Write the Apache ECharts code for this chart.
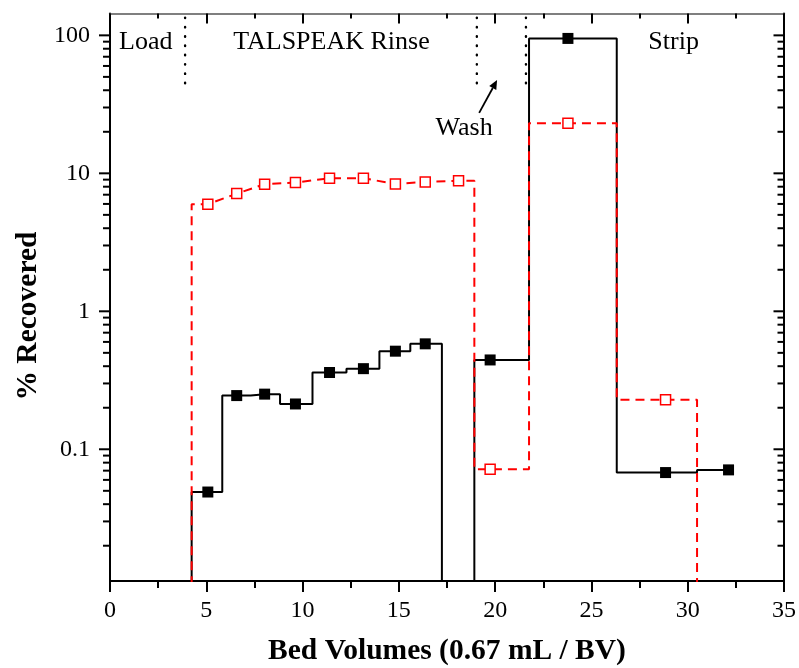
<!DOCTYPE html>
<html>
<head>
<meta charset="utf-8">
<script src="https://cdn.jsdelivr.net/npm/echarts@6.0.0/dist/echarts.min.js"></script>
<style>
  html, body { margin: 0; padding: 0; background: #ffffff; }
  #chart { width: 799px; height: 668px; }
</style>
</head>
<body>
<div id="chart"></div>
<script>
// Fraction mid-points in bed volumes; a recovery of 0 means nothing detected
const bedVolumes     = [3.4, 5.08, 6.58, 8.03, 9.63, 11.4, 13.16, 14.82, 16.37, 18.1, 19.74, 23.78, 28.85, 32.12];
const solidRecovery  = [0, 0.049, 0.245, 0.251, 0.213, 0.36, 0.384, 0.514, 0.581, 0, 0.444, 95, 0.0678, 0.0709];
const dashedRecovery = [0, 5.97, 7.13, 8.34, 8.57, 9.21, 9.21, 8.38, 8.66, 8.85, 0.0718, 23.1, 0.229, 0];

const xTickLabels = ['0', '5', '10', '15', '20', '25', '30', '35'];
const yTickLabels = ['0.1', '1', '10', '100'];

// Process step annotations (data coordinates)
const phaseNames = ['Load', 'TALSPEAK Rinse', 'Strip', 'Wash'];
const phaseNameX = [1.86, 11.5, 29.27, 18.39];
const phaseNameY = [89, 89, 89, 21.3];
const phaseBoundaries = [3.9, 19.05, 21.6];
const boundaryLow = 45;
const washArrowFrom = [19.17, 27.4];
const washArrowTo = [20.1, 47.4];

const Y_MIN = 0.0111, Y_MAX = 144;
const X_MIN = 0, X_MAX = 35;
const NOT_DETECTED = Y_MIN / 10;   // drawn below the axis floor, clipped away

const FONT = '"Liberation Serif", "Times New Roman", serif';
const RED = '#ff0000';

// Log-axis tick positions: decades plus 2..9 minors
const yTicks = [];
for (let k = -2; k <= 2; k++) {
  const d = Math.pow(10, k);
  if (d >= Y_MIN && d <= Y_MAX) yTicks.push([X_MIN, d, 1]);
  for (let m = 2; m <= 9; m++) {
    const v = m * d;
    if (v >= Y_MIN && v <= Y_MAX) yTicks.push([X_MIN, v, 0]);
  }
}

const shown = (v) => (v > 0 ? v : NOT_DETECTED);
const toLine = (vals) => bedVolumes.map((x, i) => [x, shown(vals[i])]);
const toPoints = (vals) => bedVolumes.map((x, i) => [x, vals[i]]).filter(p => p[1] > 0);

// Profile line: neighbouring fractions of similar level are joined directly,
// larger jumps change level at the boundary between the two fractions.
function profileLine(vals) {
  const pts = [[bedVolumes[0], shown(vals[0])]];
  for (let i = 0; i < bedVolumes.length - 1; i++) {
    const a = vals[i], b = vals[i + 1];
    const xb = bedVolumes[i + 1];
    const similar = a > 0 && b > 0 && Math.max(a, b) / Math.min(a, b) < 2;
    if (!similar) {
      const edge = (bedVolumes[i] + xb) / 2;
      pts.push([edge, shown(a)], [edge, shown(b)]);
    }
    pts.push([xb, shown(b)]);
  }
  return pts;
}

const axisLineStyle = { color: '#000', width: 2 };

const chart = echarts.init(document.getElementById('chart'), null, { renderer: 'canvas' });

chart.setOption({
  animation: false,
  backgroundColor: '#ffffff',
  grid: { left: 110, right: 13.3, top: 13.5, bottom: 87, containLabel: false },
  xAxis: [
    {
      type: 'value', min: X_MIN, max: X_MAX, interval: 5, position: 'bottom',
      axisLine: { show: true, onZero: false, lineStyle: axisLineStyle },
      axisTick: { show: true, inside: false, length: 11, lineStyle: axisLineStyle },
      minorTick: { show: true, splitNumber: 2, length: 7, lineStyle: axisLineStyle },
      splitLine: { show: false },
      axisLabel: {
        fontFamily: FONT, fontSize: 24, color: '#000', margin: 18,
        formatter: (v) => xTickLabels[Math.round(v / 5)]
      }
    },
    {
      type: 'value', min: X_MIN, max: X_MAX, interval: 5, position: 'top',
      axisLine: { show: true, onZero: false, lineStyle: { color: '#555', width: 1.5 } },
      axisTick: { show: true, inside: true, length: 10, lineStyle: axisLineStyle },
      minorTick: { show: true, splitNumber: 2, length: 5, lineStyle: axisLineStyle },
      splitLine: { show: false },
      axisLabel: { show: false }
    }
  ],
  yAxis: [
    {
      type: 'log', logBase: 10, min: Y_MIN, max: Y_MAX, position: 'left',
      axisLine: { show: true, onZero: false, lineStyle: axisLineStyle },
      axisTick: { show: false }, minorTick: { show: false }, splitLine: { show: false },
      axisLabel: {
        fontFamily: FONT, fontSize: 24, color: '#000', margin: 20,
        showMinLabel: false, showMaxLabel: false,
        formatter: (v) => {
          const e = Math.log10(v), r = Math.round(e);
          return Math.abs(e - r) < 1e-6 && yTickLabels[r + 1] ? yTickLabels[r + 1] : '';
        }
      }
    },
    {
      type: 'log', logBase: 10, min: Y_MIN, max: Y_MAX, position: 'right',
      axisLine: { show: true, onZero: false, lineStyle: axisLineStyle },
      axisTick: { show: false }, minorTick: { show: false }, splitLine: { show: false },
      axisLabel: { show: false }
    }
  ],
  series: [
    {
      type: 'line', step: 'middle', data: toLine(solidRecovery),
      showSymbol: false, clip: true, z: 2,
      lineStyle: { color: '#000', width: 2 }
    },
    {
      type: 'line', data: profileLine(dashedRecovery),
      showSymbol: false, clip: true, z: 3,
      lineStyle: { color: RED, width: 2, type: [9, 6] }
    },
    {
      type: 'scatter', data: toPoints(solidRecovery), z: 4,
      symbol: 'rect', symbolSize: 11,
      itemStyle: { color: '#000', opacity: 1 }
    },
    {
      type: 'scatter', data: toPoints(dashedRecovery), z: 5,
      symbol: 'rect', symbolSize: 10,
      itemStyle: { color: '#ffffff', borderColor: RED, borderWidth: 1.5, opacity: 1 }
    },
    ...phaseBoundaries.map((x) => ({
      type: 'line', data: [[x, boundaryLow], [x, Y_MAX]],
      showSymbol: false, z: 1, silent: true,
      lineStyle: { color: '#000', width: 2.4, type: [0.5, 8.8], cap: 'round' }
    })),
    {
      // decade and minor ticks on both log axes
      type: 'custom', data: yTicks, silent: true, z: 10, clip: false,
      renderItem: (params, api) => {
        const v = api.value(1);
        const major = api.value(2) === 1;
        const left = api.coord([X_MIN, v]);
        const right = api.coord([X_MAX, v]);
        const len = major ? 11 : 7;
        const st = { stroke: '#000', lineWidth: 2 };
        return {
          type: 'group',
          children: [
            { type: 'line', shape: { x1: left[0] - len, y1: left[1], x2: left[0], y2: left[1] }, style: st },
            { type: 'line', shape: { x1: right[0] - (major ? 10.5 : 6.5), y1: right[1], x2: right[0], y2: right[1] }, style: st }
          ]
        };
      }
    }
  ]
});

// Annotations placed from data coordinates
const px = (p) => chart.convertToPixel({ gridIndex: 0 }, p);
const graphics = phaseNames.map((name, i) => {
  const p = px([phaseNameX[i], phaseNameY[i]]);
  return {
    type: 'text', x: p[0], y: p[1], z: 20,
    style: { text: name, font: '26px ' + FONT, fill: '#000', textAlign: 'center', textVerticalAlign: 'middle' }
  };
});
const a0 = px(washArrowFrom), a1 = px(washArrowTo);
const dx = a1[0] - a0[0], dy = a1[1] - a0[1];
const L = Math.hypot(dx, dy), ux = dx / L, uy = dy / L;
const headLen = 9, headHalf = 4;
const base = [a1[0] - ux * headLen, a1[1] - uy * headLen];
graphics.push({
  type: 'line', z: 20,
  shape: { x1: a0[0], y1: a0[1], x2: base[0], y2: base[1] },
  style: { stroke: '#000', lineWidth: 1.8 }
});
graphics.push({
  type: 'polygon', z: 20,
  shape: { points: [a1, [base[0] - uy * headHalf, base[1] + ux * headHalf], [base[0] + uy * headHalf, base[1] - ux * headHalf]] },
  style: { fill: '#000' }
});
// Axis titles
const mid = px([(X_MIN + X_MAX) / 2, 1]);
graphics.push({
  type: 'text', x: mid[0], y: 651, z: 20,
  style: { text: 'Bed Volumes (0.67 mL / BV)', font: 'bold 29.5px ' + FONT, fill: '#000', textAlign: 'center', textVerticalAlign: 'middle' }
});
graphics.push({
  type: 'text', x: 28, y: 316, rotation: Math.PI / 2, z: 20,
  style: { text: '% Recovered', font: 'bold 29.5px ' + FONT, fill: '#000', textAlign: 'center', textVerticalAlign: 'middle' }
});
chart.setOption({ graphic: graphics });
</script>
</body>
</html>
